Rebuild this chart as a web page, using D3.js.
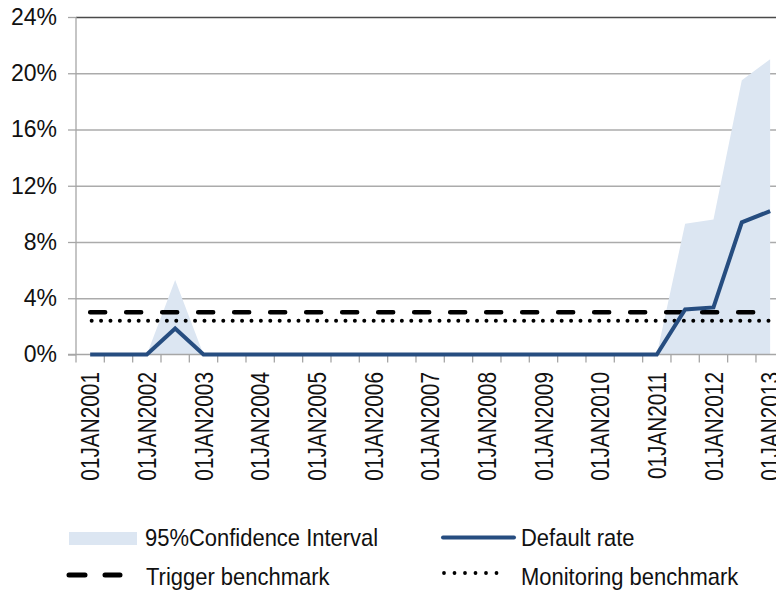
<!DOCTYPE html>
<html>
<head>
<meta charset="utf-8">
<script src="https://cdn.jsdelivr.net/npm/d3@7"></script>
<style>
  body { margin: 0; background: #fff; }
  svg { display: block; font-family: 'Liberation Sans', Arial, sans-serif; }
</style>
</head>
<body>
<svg id="chart" width="776" height="591"></svg>
<script>
// semiannual observation dates, Excel-style category axis
const dates = [
  '01JAN2001', '01JUL2001', '01JAN2002', '01JUL2002', '01JAN2003', '01JUL2003',
  '01JAN2004', '01JUL2004', '01JAN2005', '01JUL2005', '01JAN2006', '01JUL2006',
  '01JAN2007', '01JUL2007', '01JAN2008', '01JUL2008', '01JAN2009', '01JUL2009',
  '01JAN2010', '01JUL2010', '01JAN2011', '01JUL2011', '01JAN2012', '01JUL2012',
  '01JAN2013'
];
const defaultRate = [
  0, 0, 0, 0.0185, 0, 0, 0, 0, 0, 0, 0, 0,
  0, 0, 0, 0, 0, 0, 0, 0, 0, 0.032, 0.0335, 0.094, 0.102
];
const ciUpper = [
  0, 0, 0, 0.053, 0, 0, 0, 0, 0, 0, 0, 0,
  0, 0, 0, 0, 0, 0, 0, 0, 0, 0.093, 0.096, 0.195, 0.21
];
const triggerBenchmark = 0.03;
const monitoringBenchmark = 0.024;
const yTicks = [0, 0.04, 0.08, 0.12, 0.16, 0.20, 0.24];

const svg = d3.select('#chart');
const m = { left: 76, right: 784.3, top: 17, bottom: 354.5 };

const x = d3.scaleBand().domain(dates).range([m.left, m.right]).padding(0);
const cx = d => x(d) + x.bandwidth() / 2;
const y = d3.scaleLinear().domain([0, 0.24]).range([m.bottom, m.top]);

// gridlines
svg.append('g')
  .attr('transform', `translate(${m.left},0)`)
  .call(d3.axisLeft(y).tickValues(yTicks.slice(1)).tickSize(-(m.right - m.left)).tickFormat(''))
  .call(g => g.select('.domain').remove())
  .call(g => g.selectAll('line')
    .attr('stroke', d => d === 0.24 ? '#4a4a4a' : '#ababab')
    .attr('stroke-width', 1.3));

// y axis
svg.append('g')
  .attr('transform', `translate(${m.left},0)`)
  .call(d3.axisLeft(y).tickValues(yTicks).tickSize(8).tickPadding(11).tickFormat(d3.format('.0%')))
  .call(g => g.select('.domain').remove())
  .call(g => g.selectAll('line').attr('stroke', '#a6a6a6').attr('stroke-width', 1.3))
  .call(g => g.selectAll('text')
    .attr('font-size', 23).attr('fill', '#111')
    .attr('font-family', "'Liberation Sans', Arial, sans-serif"));

svg.append('line')
  .attr('x1', m.left).attr('x2', m.left).attr('y1', m.top).attr('y2', m.bottom + 8)
  .attr('stroke', '#a6a6a6').attr('stroke-width', 1.3);

// CI band
svg.append('path')
  .datum(dates)
  .attr('fill', '#dce6f2')
  .attr('d', d3.area().x(d => cx(d)).y0(y(0)).y1((d, i) => y(ciUpper[i])));

// x axis line and boundary ticks
svg.append('line')
  .attr('x1', m.left - 8).attr('x2', m.right).attr('y1', m.bottom).attr('y2', m.bottom)
  .attr('stroke', '#a6a6a6').attr('stroke-width', 1.3);
svg.append('g').selectAll('line').data(dates.slice(1)).join('line')
  .attr('x1', d => x(d)).attr('x2', d => x(d))
  .attr('y1', m.bottom).attr('y2', m.bottom + 8)
  .attr('stroke', '#a6a6a6').attr('stroke-width', 1.3);

// x labels, every second category
svg.append('g').selectAll('text').data(dates.filter((d, i) => i % 2 === 0)).join('text')
  .attr('transform', d => `translate(${cx(d)},372) rotate(-90) scale(0.8,1)`)
  .attr('text-anchor', 'end')
  .attr('dy', '0.35em')
  .attr('font-size', 26)
  .attr('fill', '#111')
  .text(d => d);

// benchmarks
svg.append('line')
  .attr('x1', cx(dates[0])).attr('x2', cx(dates[dates.length - 1]))
  .attr('y1', y(triggerBenchmark)).attr('y2', y(triggerBenchmark))
  .attr('stroke', '#000').attr('stroke-width', 4.5)
  .attr('stroke-linecap', 'round').attr('stroke-dasharray', '15 21');
svg.append('line')
  .attr('x1', cx(dates[0]) + 1.5).attr('x2', cx(dates[dates.length - 1]))
  .attr('y1', y(monitoringBenchmark)).attr('y2', y(monitoringBenchmark))
  .attr('stroke', '#000').attr('stroke-width', 4)
  .attr('stroke-linecap', 'round').attr('stroke-dasharray', '0 9.4');

// default rate
svg.append('path')
  .datum(dates)
  .attr('fill', 'none')
  .attr('stroke', '#264d80')
  .attr('stroke-width', 4)
  .attr('stroke-linejoin', 'miter')
  .attr('d', d3.line().x(d => cx(d)).y((d, i) => y(defaultRate[i])));

// legend
const legend = svg.append('g');
const lbl = (tx, ty, t) => legend.append('text')
  .attr('transform', `translate(${tx},${ty}) scale(0.915,1)`)
  .attr('font-size', 24).attr('fill', '#111').text(t);

legend.append('rect').attr('x', 69).attr('y', 532).attr('width', 68).attr('height', 13).attr('fill', '#dce6f2');
lbl(145, 546, '95%Confidence Interval');

legend.append('line').attr('x1', 443).attr('x2', 514).attr('y1', 537.5).attr('y2', 537.5)
  .attr('stroke', '#264d80').attr('stroke-width', 4).attr('stroke-linecap', 'round');
lbl(521, 546, 'Default rate');

legend.append('line').attr('x1', 69).attr('x2', 120).attr('y1', 575).attr('y2', 575)
  .attr('stroke', '#000').attr('stroke-width', 5).attr('stroke-linecap', 'round').attr('stroke-dasharray', '16 20');
lbl(146, 585, 'Trigger benchmark');

legend.append('line').attr('x1', 444).attr('x2', 507).attr('y1', 573).attr('y2', 573)
  .attr('stroke', '#000').attr('stroke-width', 3.8).attr('stroke-linecap', 'round').attr('stroke-dasharray', '0 10.5');
lbl(521, 585, 'Monitoring benchmark');
</script>
</body>
</html>
